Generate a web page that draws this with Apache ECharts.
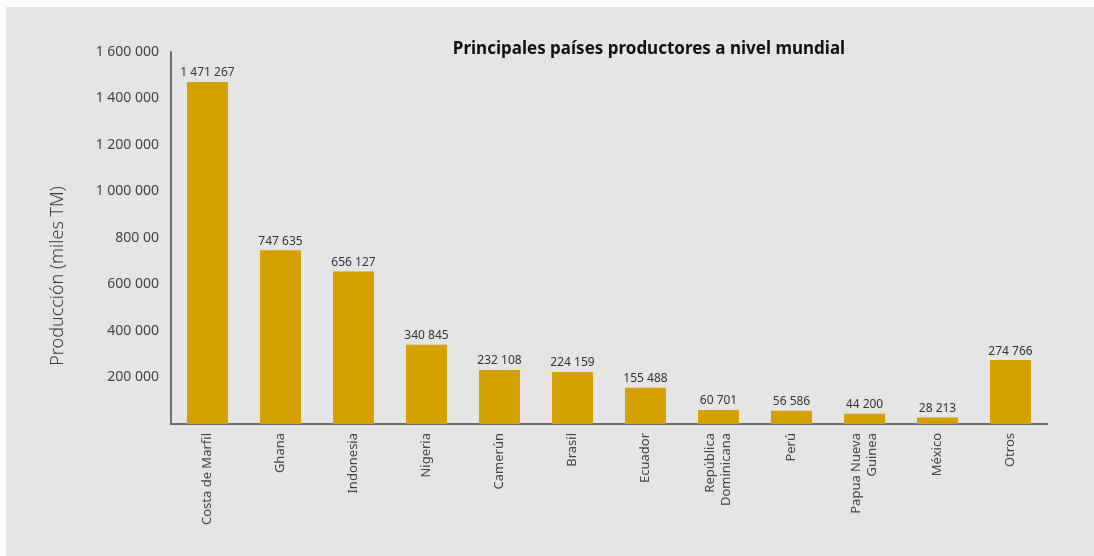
<!DOCTYPE html>
<html>
<head>
    <meta charset="utf-8">
    <title>Principales países productores a nivel mundial</title>
    <script src="https://cdn.jsdelivr.net/npm/echarts@6/dist/echarts.min.js"></script>
    <style>
        html, body { margin: 0; padding: 0; background: #ffffff; }
        #panel { position: absolute; left: 6px; top: 7px; width: 1088px; height: 549px; background: #e5e5e5; }
        #chart { position: absolute; left: 0; top: 0; width: 1094px; height: 556px; }
    </style>
</head>
<body>
<div id="panel"></div>
<div id="chart"></div>
<script>
    // datos del gráfico
    var paises = ['Costa de Marfil', 'Ghana', 'Indonesia', 'Nigeria', 'Camerún', 'Brasil', 'Ecuador',
        'República\nDominicana', 'Perú', 'Papua Nueva\nGuinea', 'México', 'Otros'];
    var produccion = [1471267, 747635, 656127, 340845, 232108, 224159, 155488, 60701, 56586, 44200, 28213, 274766];
    // etiquetas del eje Y (tal como aparecen, incluido "800 00")
    var yTicks = [0, 200000, 400000, 600000, 800000, 1000000, 1200000, 1400000, 1600000];
    var yTickLabels = ['', '200 000', '400 000', '600 000', '800 00', '1 000 000', '1 200 000', '1 400 000', '1 600 000'];

    function miles(v) {
        return String(v).replace(/\B(?=(\d{3})+(?!\d))/g, ' ');
    }

    var font = '"Noto Sans", "Open Sans", sans-serif';
    var myChart = echarts.init(document.getElementById('chart'));
    myChart.setOption({
        backgroundColor: 'transparent',
        animation: false,
        title: {
            text: 'Principales países productores a nivel mundial',
            left: 644,
            textAlign: 'center',
            top: 36,
            textStyle: { fontFamily: font, fontSize: 17, fontWeight: 'bold', color: '#111111' }
        },
        graphic: [{
            type: 'text',
            x: 58,
            y: 276,
            rotation: Math.PI / 2,
            style: {
                text: 'Producción (miles TM)',
                font: '300 18px ' + font,
                fill: '#3a3a3a',
                align: 'center',
                verticalAlign: 'middle'
            }
        }],
        grid: { left: 171, right: 47, top: 52, height: 372, containLabel: false },
        xAxis: {
            type: 'category',
            data: paises,
            axisTick: { show: false },
            axisLine: { lineStyle: { color: '#6e6e6e', width: 2 } },
            axisLabel: {
                interval: 0,
                rotate: 90,
                margin: 9,
                fontFamily: font,
                fontSize: 13,
                color: '#444444',
                lineHeight: 16
            }
        },
        yAxis: {
            type: 'value',
            min: 0,
            max: 1600000,
            interval: 200000,
            splitLine: { show: false },
            axisTick: { show: false },
            axisLine: { show: true, lineStyle: { color: '#6e6e6e', width: 2 } },
            axisLabel: {
                margin: 12,
                padding: [3, 0, 0, 0],
                fontFamily: font,
                fontSize: 14,
                color: '#444444',
                formatter: function (v) {
                    var i = yTicks.indexOf(v);
                    return i >= 0 ? yTickLabels[i] : '';
                }
            }
        },
        series: [{
            type: 'bar',
            data: produccion,
            barWidth: 41,
            itemStyle: { color: '#d4a100' },
            label: {
                show: true,
                position: 'top',
                distance: 3,
                fontFamily: font,
                fontSize: 12,
                color: '#333333',
                formatter: function (p) { return miles(p.value); }
            }
        }]
    });
</script>
</body>
</html>
